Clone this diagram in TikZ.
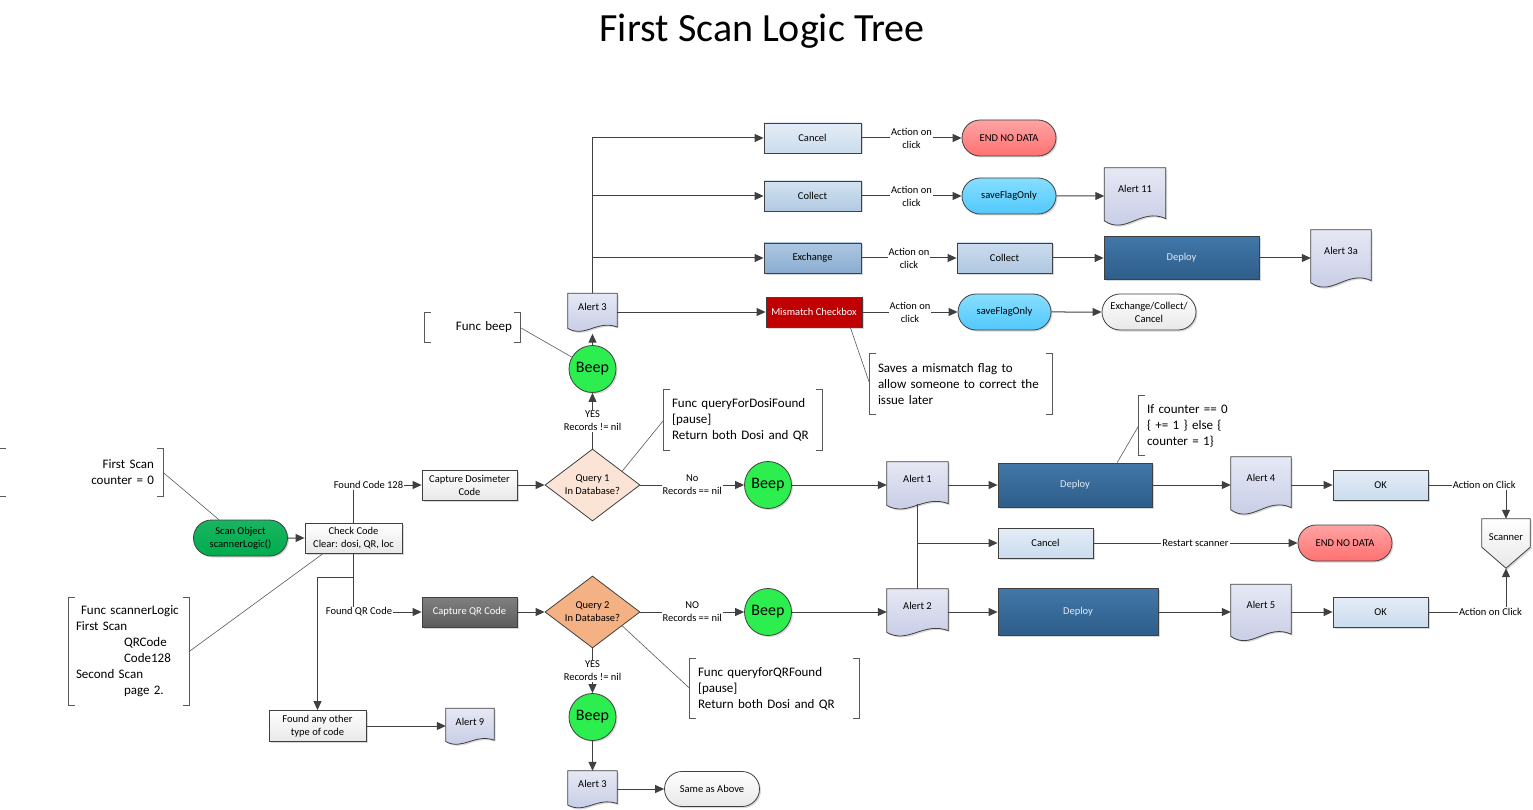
\documentclass[tikz,border=0pt]{standalone}
\usepackage{fontspec}
\setmainfont{Carlito}
\usetikzlibrary{positioning,arrows.meta,calc,shapes.geometric,shapes.misc,shadows}

\definecolor{linegray}{HTML}{404040}
\definecolor{notegray}{HTML}{595959}
\definecolor{paletop}{HTML}{E4EDF6}
\definecolor{palebot}{HTML}{CADCEE}
\definecolor{midtop}{HTML}{D2E2F1}
\definecolor{midbot}{HTML}{B2CAE3}
\definecolor{steeltop}{HTML}{ADC7E1}
\definecolor{steelbot}{HTML}{8AADD2}
\definecolor{lighttop}{HTML}{CBDCEE}
\definecolor{lightbot}{HTML}{AFC7E1}
\definecolor{navytop}{HTML}{4177A8}
\definecolor{navybot}{HTML}{2E5D8A}
\definecolor{redbox}{HTML}{C00000}
\definecolor{salmontop}{HTML}{FFA3A3}
\definecolor{salmonbot}{HTML}{FF7171}
\definecolor{cyantop}{HTML}{86DEFF}
\definecolor{cyanbot}{HTML}{52C8FC}
\definecolor{lavtop}{HTML}{E6E8F4}
\definecolor{lavbot}{HTML}{C4C9E4}
\definecolor{beepgreen}{HTML}{2DEE4F}
\definecolor{scangreen}{HTML}{00AC4E}
\definecolor{graytop}{HTML}{808080}
\definecolor{graybot}{HTML}{5C5C5C}
\definecolor{peachlt}{HTML}{FBE4D5}
\definecolor{peachdk}{HTML}{F4B183}
\definecolor{deploytext}{HTML}{E0E9F3}

\newcommand{\lblfont}{\fontsize{10.5}{13}\selectfont}
\newcommand{\notefont}{\fontsize{13}{16}\selectfont}
\newcommand{\beepfont}{\fontsize{16}{19}\selectfont}
\newcommand{\ttlfont}{\fontsize{40}{48}\selectfont}

\tikzset{
  softshadow/.style={drop shadow={shadow xshift=1.5pt, shadow yshift=-1.5pt, fill=black!30, opacity=.5}},
  base/.style={draw=linegray, line width=0.8pt, font=\lblfont, align=center, inner sep=1pt, softshadow},
  procbox/.style={base, rectangle, minimum width=96pt, minimum height=30pt},
  pill/.style={base, rounded rectangle, minimum width=96pt, minimum height=36pt},
  decide/.style={draw=linegray, line width=0.8pt, font=\lblfont, align=center, diamond, aspect=1.3,
    inner sep=0pt, minimum width=95pt, minimum height=72pt},
  beepnode/.style={base, circle, minimum size=47pt, fill=beepgreen, font=\beepfont, inner sep=0pt},
  docgeom/.style={rectangle, inner sep=0pt},
  alertfill/.style={draw=linegray, line width=0.8pt, top color=lavtop, bottom color=lavbot, softshadow},
  palefill/.style={top color=paletop, bottom color=palebot},
  midfill/.style={top color=midtop, bottom color=midbot},
  steelfill/.style={top color=steeltop, bottom color=steelbot},
  lightfill/.style={top color=lighttop, bottom color=lightbot},
  navyfill/.style={top color=navytop, bottom color=navybot, text=deploytext},
  salmonfill/.style={top color=salmontop, bottom color=salmonbot},
  cyanfill/.style={top color=cyantop, bottom color=cyanbot},
  whitefill/.style={top color=white, bottom color=black!9},
  grayfill/.style={top color=graytop, bottom color=graybot, text=white},
  notebox/.style={font=\notefont, align=left, inner ysep=0pt, inner xsep=8pt},
  bracket/.style={draw=notegray, line width=1pt},
  callout/.style={draw=notegray, line width=0.6pt},
  conn/.style={draw=linegray, line width=1pt, -{Triangle[length=9pt,width=8pt]}},
  link/.style={draw=linegray, line width=1pt},
  lbl/.style={font=\lblfont, fill=white, inner sep=1pt, align=center},
  ttl/.style={font=\ttlfont}
}

% document shape: name, centre, width, height, text
\newcommand{\alertdoc}[5]{%
  \node[docgeom, minimum width=#3pt, minimum height=#4pt] (#1) at (#2) {};
  \path[alertfill] (#1.north west) -- (#1.north east) -- ($(#1.south east)+(0,-0.1*#4)$)
    .. controls ($(#1.south west)+(0.6*#3,-0.3*#4)$) and ($(#1.south west)+(0.35*#3,0.2*#4)$)
    .. ($(#1.south west)+(0,-0.06*#4)$) -- cycle;
  \node[font=\lblfont] (#1-t) at ($(#1.center)+(0,-0.13*#4)$) {#5};
}

\begin{document}
\begin{tikzpicture}[x=1pt, y=-1pt]
\useasboundingbox (0,0) rectangle (1533,810);
\node[ttl] (title) at (762,31) {First Scan Logic Tree};

% start of the scan
\node[pill, top color=scangreen!90, bottom color=scangreen] (scan) at (240.5,538) {Scan Object\\scannerLogic()};
\node[procbox, whitefill, minimum width=97pt] (chk) at (353.5,538) {Check Code\\Clear: dosi, QR, loc};
\coordinate (fork) at (353.5,577);
\node[procbox, whitefill, minimum width=95pt] (cap1) at (469.5,485) {Capture Dosimeter\\Code};
\node[procbox, grayfill, minimum width=95pt] (capqr) at (469.5,612) {Capture QR Code};
\node[procbox, whitefill, minimum width=97pt, minimum height=31pt] (oth) at (317.5,726) {Found any other\\type of code};
\alertdoc{al9}{470,726}{48}{35}{Alert 9}

% queries
\node[decide, fill=peachlt] (q1) at (592.5,485) {Query 1\\In Database?};
\node[decide, fill=peachdk] (q2) at (592.5,612) {Query 2\\In Database?};
\node[beepnode] (beep1) at (592.5,369) {Beep};
\node[beepnode] (beep2) at (768,485) {Beep};
\node[beepnode] (beep3) at (768,612) {Beep};
\node[beepnode] (beep4) at (592.5,717) {Beep};
\alertdoc{al3}{592.5,312}{49}{37}{Alert 3}
\alertdoc{al3b}{592.5,789}{49}{36}{Alert 3}
\node[pill, whitefill, minimum width=97pt, minimum height=35pt] (same) at (712,789) {Same as Above};

% alert 3 choices
\node[procbox, palefill, minimum width=97pt] (can1) at (812.5,138) {Cancel};
\node[procbox, midfill, minimum width=97pt] (col1) at (812.5,196) {Collect};
\node[procbox, steelfill, minimum width=97pt] (exc1) at (812.5,258) {Exchange};
\node[procbox, fill=redbox, text=white] (mis) at (814,312) {Mismatch Checkbox};
\node[pill, salmonfill] (endA) at (1009,138) {END NO DATA};
\node[pill, cyanfill] (sfo1) at (1009,196) {saveFlagOnly};
\node[procbox, lightfill, minimum width=95pt] (col2) at (1004.5,258) {Collect};
\node[pill, cyanfill, minimum width=95pt] (sfo2) at (1004.5,312) {saveFlagOnly};
\alertdoc{al11}{1135,196}{61}{56}{Alert 11}
\node[procbox, navyfill, minimum width=155pt, minimum height=43pt] (dep0) at (1181.5,258) {Deploy};
\alertdoc{al3a}{1341,258}{60}{56}{Alert 3a}
\node[pill, whitefill] (ecc) at (1149,312) {Exchange/Collect/\\Cancel};

% record rows
\alertdoc{al1}{917.5,485}{61}{46}{Alert 1}
\alertdoc{al2}{917.5,612}{61}{46}{Alert 2}
\node[procbox, navyfill, minimum width=154pt, minimum height=44pt] (dep1) at (1075,485) {Deploy};
\node[procbox, navyfill, minimum width=160pt, minimum height=47pt] (dep2) at (1078,612) {Deploy};
\node[procbox, palefill, minimum width=95pt] (can2) at (1045.5,543) {Cancel};
\node[pill, salmonfill] (endB) at (1345,543) {END NO DATA};
\alertdoc{al4}{1261,485}{60}{56}{Alert 4}
\alertdoc{al5}{1261,612}{60}{55}{Alert 5}
\node[procbox, palefill, minimum width=95pt] (ok4) at (1380.5,485) {OK};
\node[procbox, palefill, minimum width=95pt] (ok5) at (1380.5,612) {OK};
\node[docgeom, minimum width=48pt, minimum height=49pt] (scanner) at (1506,543.5) {};
\path[draw=linegray, line width=0.8pt, whitefill, softshadow] (scanner.north west) -- (scanner.north east)
  -- ($(scanner.south east)+(0,-21)$) -- (scanner.south) -- ($(scanner.south west)+(0,-21)$) -- cycle;
\node[font=\lblfont] (scanner-t) at ($(scanner.center)+(0,-6.5)$) {Scanner};

% notes
\node[notebox, text width=79pt, align=right, minimum height=29pt] (nbeep) at (472.5,327.5) {Func beep};
\node[notebox, text width=145pt, align=right, minimum height=47pt, inner xsep=9pt] (nfirst) at (81.5,472.5) {First Scan\\counter = 0};
\node[notebox, text width=142pt, minimum height=60pt] (ndosi) at (743,420) {Func queryForDosiFound\\{[pause]}\\Return both Dosi and QR};
\node[notebox, text width=166pt, minimum height=60pt] (nmis) at (961,384) {Saves a mismatch flag to\\allow someone to correct the\\issue later};
\node[notebox, text width=90pt, minimum height=59pt] (ncount) at (1192,425.5) {If counter == 0\\\{ += 1 \} else \{\\counter = 1\}};
\node[notebox, text width=153pt, minimum height=59pt] (nqr) at (774.5,688.5) {Func queryforQRFound\\{[pause]}\\Return both Dosi and QR};
\node[notebox, text width=106pt, minimum height=107pt, inner xsep=7pt] (nscan) at (129,651.5)
  {\hspace*{5pt}Func scannerLogic\\First Scan\\\hspace*{48pt}QRCode\\\hspace*{48pt}Code128\\Second Scan\\\hspace*{48pt}page 2.};
\foreach \n in {nbeep,nfirst,ndosi,nmis,nqr,nscan} {
  \draw[bracket] ([xshift=6pt]\n.north west) -- (\n.north west) -- (\n.south west) -- ([xshift=6pt]\n.south west);
  \draw[bracket] ([xshift=-6pt]\n.north east) -- (\n.north east) -- (\n.south east) -- ([xshift=-6pt]\n.south east);
}
\draw[bracket] ([xshift=6pt]ncount.north west) -- (ncount.north west) -- (ncount.south west) -- ([xshift=6pt]ncount.south west);
\draw[callout] (nbeep.east) -- (beep1);
\draw[callout] (nfirst.east) -- (scan);
\draw[callout] (ndosi.west) -- (q1.25);
\draw[callout] (mis.-23) -- (nmis.west);
\draw[callout] (dep1.28) -- (ncount.west);
\draw[callout] (q2.-25) -- (nqr.west);
\draw[callout] (nscan.east) -- (chk.-153);

% connectors
\draw[conn] (scan) -- (chk);
\draw[conn] (chk.north) |- node[lbl, pos=0.61]{Found Code 128} (cap1.west);
\draw[conn] (chk.south) |- node[lbl, pos=0.54]{Found QR Code} (capqr.west);
\draw[conn] (chk.south) -- (fork) -| (oth.north);
\draw[conn] (oth) -- (al9);
\draw[conn] (cap1) -- (q1);
\draw[conn] (capqr) -- (q2);
\draw[conn] (q1) -- node[lbl]{YES\\Records != nil} (beep1);
\draw[conn, shorten >=3pt] (beep1) -- (al3.south);
\draw[conn] (al3.north) |- (can1);
\draw[conn] (al3.north) |- (col1);
\draw[conn] (al3.north) |- (exc1);
\draw[conn] (al3) -- (mis);
\draw[conn] (can1) -- node[lbl]{Action on\\click} (endA);
\draw[conn] (col1) -- node[lbl]{Action on\\click} (sfo1);
\draw[conn] (sfo1) -- (al11);
\draw[conn] (exc1) -- node[lbl]{Action on\\click} (col2);
\draw[conn] (col2) -- (dep0);
\draw[conn] (dep0) -- (al3a);
\draw[conn] (mis) -- node[lbl]{Action on\\click} (sfo2);
\draw[conn] (sfo2) -- (ecc);
\draw[conn] (q1) -- node[lbl]{No\\Records == nil} (beep2);
\draw[conn] (beep2) -- (al1);
\draw[conn] (al1) -- (dep1);
\draw[conn] (dep1) -- (al4);
\draw[conn] (al4) -- (ok4);
\draw[conn] (ok4) -| node[lbl, pos=0.36]{Action on Click} (scanner);
\draw[link, shorten <=-4pt] (al1.south) -- (al2.north);
\draw[conn] (al1.south) |- (can2);
\draw[conn] (can2) -- node[lbl]{Restart scanner} (endB);
\draw[conn] (q2) -- node[lbl]{NO\\Records == nil} (beep3);
\draw[conn] (beep3) -- (al2);
\draw[conn] (al2) -- (dep2);
\draw[conn] (dep2) -- (al5);
\draw[conn] (al5) -- (ok5);
\draw[conn] (ok5) -| node[lbl, pos=0.4]{Action on Click} (scanner);
\draw[conn] (q2) -- node[lbl]{YES\\Records != nil} (beep4);
\draw[conn] (beep4) -- (al3b);
\draw[conn] (al3b) -- (same);
\end{tikzpicture}
\end{document}
